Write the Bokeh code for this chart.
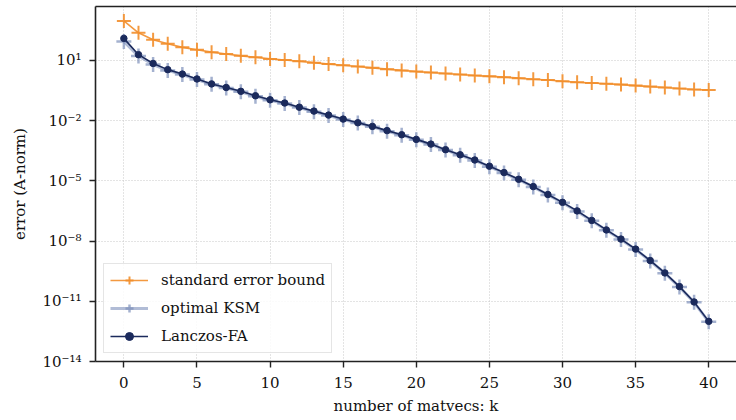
from bokeh.plotting import figure
from bokeh.models import (Range1d, FixedTicker, CustomJSTickFormatter, LinearAxis,
                          Legend, LegendItem)
from bokeh.embed import file_html
from bokeh.resources import INLINE

k = list(range(41))

standard_bound = [9.3e2, 2.4e2, 1.07e2, 6.8e1, 4.5e1, 3.4e1, 2.6e1, 2.1e1, 1.7e1, 1.45e1,
                  1.2e1, 1.05e1, 9.1, 7.8, 6.6, 5.75, 5.0, 4.3, 3.7, 3.2,
                  2.8, 2.5, 2.24, 2.0, 1.78, 1.62, 1.48, 1.32, 1.17, 1.07,
                  0.93, 0.83, 0.76, 0.69, 0.63, 0.56, 0.50, 0.45, 0.40, 0.36, 0.34]

optimal_ksm = [8.9e1, 1.66e1, 6.3, 3.2, 2.0, 1.12, 6.5e-1, 4.3e-1, 2.75e-1, 1.66e-1,
               1.05e-1, 7.2e-2, 4.5e-2, 2.8e-2, 1.8e-2, 1.15e-2, 7.6e-3, 5.0e-3, 3.0e-3, 1.9e-3,
               1.12e-3, 6.5e-4, 3.5e-4, 1.9e-4, 1.05e-4, 5.1e-5, 2.45e-5, 1.15e-5, 5.0e-6, 2.0e-6,
               8.1e-7, 3.0e-7, 1.02e-7, 3.5e-8, 1.2e-8, 3.8e-9, 1.02e-9, 2.5e-10, 5.1e-11, 8.9e-12,
               9.5e-13]

lanczos_fa = [1.26e2, 1.95e1, 7.1, 3.5, 2.1, 1.2, 6.8e-1, 4.5e-1, 2.9e-1, 1.75e-1,
              1.1e-1, 7.6e-2, 4.7e-2, 3.0e-2, 1.9e-2, 1.2e-2, 7.9e-3, 5.2e-3, 3.2e-3, 2.0e-3,
              1.17e-3, 6.8e-4, 3.6e-4, 2.0e-4, 1.1e-4, 5.4e-5, 2.6e-5, 1.2e-5, 5.2e-6, 2.1e-6,
              8.5e-7, 3.2e-7, 1.07e-7, 3.6e-8, 1.26e-8, 4.0e-9, 1.07e-9, 2.6e-10, 5.4e-11, 9.3e-12,
              1.0e-12]

x_ticks = [0, 5, 10, 15, 20, 25, 30, 35, 40]
y_ticks = [1e-14, 1e-11, 1e-8, 1e-5, 1e-2, 1e1]

FONT = "DejaVu Serif"
ORANGE = "#f28e2b"
LIGHT = "#7d90bb"
NAVY = "#1b2a5c"
AX = "#222222"

p = figure(width=736, height=420, y_axis_type="log", output_backend="svg",
           toolbar_location=None, x_range=Range1d(-1.94, 41.9),
           y_range=Range1d(1e-14, 10 ** 3.69),
           min_border_left=95, min_border_right=0, min_border_top=6, min_border_bottom=59)
p.outline_line_color = None

# series
r_or_l = p.line(k, standard_bound, line_color=ORANGE, line_width=1.6, line_alpha=0.9)
r_or_m = p.scatter(k, standard_bound, marker="cross", size=14, line_color=ORANGE,
                   line_width=2, line_alpha=0.9)
r_op_l = p.line(k, optimal_ksm, line_color=LIGHT, line_width=3, line_alpha=0.6)
r_op_m = p.scatter(k, optimal_ksm, marker="cross", size=15, line_color=LIGHT,
                   line_width=2.5, line_alpha=0.7)
r_la_l = p.line(k, lanczos_fa, line_color=NAVY, line_width=1.6)
r_la_m = p.scatter(k, lanczos_fa, marker="circle", size=6.5, fill_color=NAVY,
                   line_color=NAVY, line_width=1)

legend = Legend(items=[
    LegendItem(label="standard error bound", renderers=[r_or_l, r_or_m]),
    LegendItem(label="optimal KSM", renderers=[r_op_l, r_op_m]),
    LegendItem(label="Lanczos-FA", renderers=[r_la_l, r_la_m]),
], location="bottom_left")
legend.label_text_font = FONT
legend.label_text_font_size = "15px"
legend.label_text_color = "#111111"
legend.glyph_width = 38
legend.glyph_height = 20
legend.label_height = 20
legend.spacing = 8
legend.padding = 6
legend.margin = 8
legend.label_standoff = 13
legend.border_line_color = "#cccccc"
legend.border_line_width = 1.2
legend.background_fill_alpha = 0.85
p.add_layout(legend)

# axes
p.xaxis.ticker = FixedTicker(ticks=x_ticks)
p.yaxis.ticker = FixedTicker(ticks=y_ticks)
p.yaxis.formatter = CustomJSTickFormatter(code="""
const sup = {'-':'\u207b','0':'\u2070','1':'\u00b9','2':'\u00b2','3':'\u00b3','4':'\u2074',
             '5':'\u2075','6':'\u2076','7':'\u2077','8':'\u2078','9':'\u2079'};
const e = Math.round(Math.log10(tick));
return '10' + String(e).split('').map(c => sup[c]).join('');
""")
for ax in (p.xaxis[0], p.yaxis[0]):
    ax.axis_line_color = AX
    ax.axis_line_width = 1.6
    ax.major_tick_line_color = AX
    ax.major_tick_line_width = 1.4
    ax.major_tick_in = 0
    ax.major_tick_out = 6
    ax.minor_tick_line_color = None
    ax.major_label_text_font = FONT
    ax.major_label_text_font_size = "15px"
    ax.major_label_text_color = "#111111"
    ax.axis_label_text_font = FONT
    ax.axis_label_text_font_size = "15px"
    ax.axis_label_text_font_style = "normal"
    ax.axis_label_text_color = "#111111"

p.xaxis.axis_label = "number of matvecs: k"
p.yaxis.axis_label = "error (A-norm)"
p.xaxis.major_label_standoff = 9
p.xaxis.axis_label_standoff = 6
p.yaxis.major_label_standoff = 8
p.yaxis.axis_label_standoff = 10

top = LinearAxis(ticker=FixedTicker(ticks=[]), major_label_text_font_size="0px",
                 major_tick_out=0, major_tick_in=0, major_label_standoff=0,
                 axis_line_color=AX, axis_line_width=1.6, minor_tick_line_color=None)
p.add_layout(top, "above")

for g in (p.xgrid[0], p.ygrid[0]):
    g.grid_line_color = "#c8c8c8"
    g.grid_line_dash = "1 2"
    g.grid_line_width = 1

open("out.html", "w").write(file_html(p, INLINE))
